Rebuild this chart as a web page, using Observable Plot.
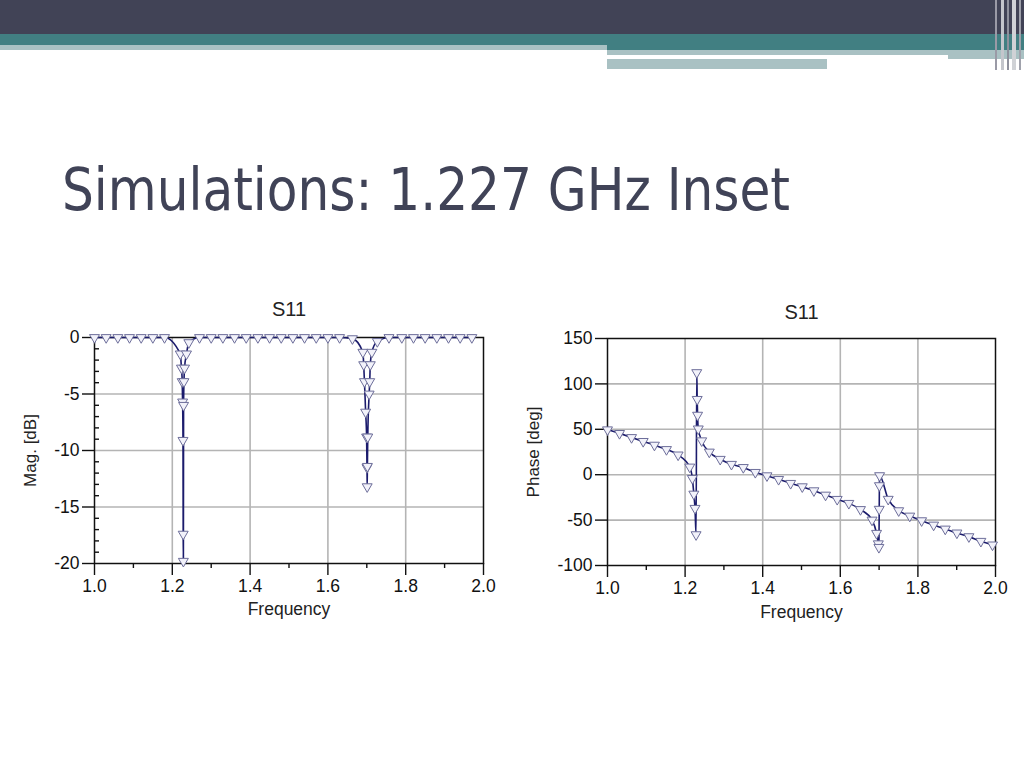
<!DOCTYPE html>
<html>
<head>
<meta charset="utf-8">
<script src="https://cdn.jsdelivr.net/npm/d3@7"></script>
<script src="https://cdn.jsdelivr.net/npm/@observablehq/plot@0.6"></script>
<style>
  html, body { margin:0; padding:0; background:#fff; }
  body { width:1024px; height:768px; position:relative; overflow:hidden; }
  .deco { position:absolute; }
  #title { position:absolute; left:0; top:0; }
  .chart { position:absolute; }
</style>
</head>
<body>
<!-- slide header decoration -->
<div class="deco" style="left:0;top:0;width:1024px;height:34px;background:#414356"></div>
<div class="deco" style="left:0;top:34px;width:1024px;height:11px;background:#417f82"></div>
<div class="deco" style="left:607px;top:45px;width:417px;height:5px;background:#417f82"></div>
<div class="deco" style="left:0;top:45px;width:607px;height:5px;background:#a9c1c3"></div>
<div class="deco" style="left:607px;top:50px;width:417px;height:5px;background:#a9c1c3"></div>
<div class="deco" style="left:948px;top:55px;width:76px;height:4px;background:#a9c1c3"></div>
<div class="deco" style="left:607px;top:59px;width:220px;height:10px;background:#a9c1c3"></div>
<div class="deco" style="left:995px;top:0;width:2px;height:70px;background:#9a9aa6"></div>
<div class="deco" style="left:1001px;top:0;width:3px;height:70px;background:#c4c6cc"></div>
<div class="deco" style="left:1007px;top:0;width:2px;height:70px;background:#8e909c"></div>
<div class="deco" style="left:1012px;top:0;width:4px;height:70px;background:#d0d2d6"></div>
<div class="deco" style="left:1019px;top:0;width:2px;height:70px;background:#a0a2ac"></div>

<svg id="title" width="1024" height="260">
  <text x="62" y="210" font-family="'DejaVu Sans Condensed','DejaVu Sans',sans-serif" font-stretch="condensed" font-size="58" fill="#404357" textLength="728" lengthAdjust="spacingAndGlyphs">Simulations: 1.227 GHz Inset</text>
</svg>

<div id="left" class="chart" style="left:10px;top:290px"></div>
<div id="right" class="chart" style="left:510px;top:290px"></div>

<script>
// ---------- data ----------
const magFreq = [1.00,1.03,1.06,1.09,1.12,1.15,1.18,
  1.2205,1.2235,1.2255,1.2265,1.2275,1.2280,1.2285,
  1.2290,1.2300,1.2315,1.2365,1.2425,
  1.27,1.30,1.33,1.36,1.39,1.42,1.45,1.48,1.51,1.54,1.57,1.60,1.63,
  1.663,
  1.690,1.692,1.694,1.697,1.6995,1.7005,1.701,
  1.7015,1.7025,1.706,1.7075,1.709,1.713,1.727,
  1.757,
  1.79,1.82,1.85,1.88,1.91,1.94,1.97];
const magDb = [0,0,0,0,0,0,0,
  -1.45,-2.7,-3.9,-5.7,-9.1,-17.4,-19.8,
  -6.0,-3.9,-2.7,-1.45,-0.45,
  0,0,0,0,0,0,0,0,0,0,0,0,0,
  -0.1,
  -1.3,-2.4,-3.9,-6.6,-8.8,-11.5,-13.2,
  -11.4,-8.8,-5.0,-3.9,-2.4,-1.3,-0.35,
  0,
  0,0,0,0,0,0,0];

const phaseFreq = [1.000,1.031,1.062,1.092,1.121,1.152,1.182,1.212,1.2187,1.2225,1.2255,1.2283,
  1.2300,1.2312,1.2322,1.2340,1.2428,1.2624,1.2905,1.3195,1.350,1.381,1.411,1.441,1.472,1.502,
  1.532,1.562,1.592,1.622,1.652,1.6818,1.6935,1.6980,1.6995,1.7003,1.7008,1.7013,1.7235,1.7505,
  1.7790,1.8096,1.8405,1.8705,1.9005,1.9314,1.9623,1.9923];
const phaseDeg = [49.5,45.5,41,36.7,32.6,27.8,21.8,8.5,-4,-21.3,-37,-66,
  112.5,83,65.6,50.5,37.4,25,17,11.5,8,2.6,-1.1,-5.1,-9.5,-13.2,
  -17.6,-22.4,-27.1,-31.5,-38.3,-49.9,-64.5,-76,-80,-38,-12,-1,-27,-39.6,
  -45.5,-50.6,-55.4,-59.8,-64.1,-68.2,-73.3,-77.3];

const freqMajorTicks = [1.0,1.2,1.4,1.6,1.8,2.0];
const freqMinorTicks = [1.1,1.3,1.5,1.7,1.9];
const freqGrid = [1.2,1.4,1.6,1.8];
const magMajorTicks = [0,-5,-10,-15,-20];
const magMinorTicks = [-1,-2,-3,-4,-6,-7,-8,-9,-11,-12,-13,-14,-16,-17,-18,-19];
const magGrid = [-5,-10,-15];
const phaseMajorTicks = [150,100,50,0,-50,-100];
const phaseGrid = [100,50,0,-50];

const chartTitle = "S11";
const xLabel = "Frequency";
const magLabel = "Mag. [dB]";
const phaseLabel = "Phase [deg]";

// ---------- tables ----------
const magData = magFreq.map((f, i) => ({f, v: magDb[i]}));
const phaseData = phaseFreq.map((f, i) => ({f, v: phaseDeg[i]}));

const lineColor = "#1b1b6c";
const gridColor = "#b4b4b4";
const font = "'Liberation Sans', Arial, sans-serif";

function makeChart(cfg) {
  const plotW = cfg.width - cfg.ml - cfg.mr;
  return Plot.plot({
    width: cfg.width, height: cfg.height,
    marginLeft: cfg.ml, marginRight: cfg.mr, marginTop: cfg.mt, marginBottom: cfg.mb,
    style: {fontFamily: font, fontSize: "17.5px", color: "#111", background: "transparent", overflow: "visible"},
    x: {domain: [1, 2]},
    y: {domain: cfg.yDomain},
    marks: [
      Plot.gridX(freqGrid, {stroke: gridColor, strokeOpacity: 1, strokeWidth: 1.6}),
      Plot.gridY(cfg.yGrid, {stroke: gridColor, strokeOpacity: 1, strokeWidth: 1.6}),
      Plot.axisX({ticks: freqMajorTicks, tickSize: 12, tickPadding: 4, tickFormat: d => d.toFixed(1), label: null, strokeWidth: 1.4, fontSize: 17.5}),
      Plot.axisX({ticks: freqMinorTicks, tickSize: 5, tickFormat: () => "", label: null, strokeWidth: 1.4}),
      Plot.axisY({ticks: cfg.yMajor, tickSize: 12, tickPadding: 3, tickFormat: d => String(d), label: null, strokeWidth: 1.4, fontSize: 17.5}),
      cfg.yMinor ? Plot.tickY(cfg.yMinor, {y: d => d, insetRight: plotW - 5, stroke: "#111", strokeWidth: 1.4}) : null,
      Plot.frame({stroke: "#111", strokeWidth: 1.5}),
      Plot.line(cfg.data, {x: "f", y: "v", stroke: lineColor, strokeWidth: 1.6, curve: "monotone-x"}),
      Plot.dot(cfg.data, {x: "f", y: "v", symbol: "triangle", rotate: 180, r: 3.7, stroke: "#6d6e9a", fill: "#f2f2fa", strokeWidth: 1}),
      Plot.text([chartTitle], {text: d => d, frameAnchor: "top", lineAnchor: "middle", textAnchor: "middle", dy: cfg.titleDy, fontSize: 20, fill: "#222"}),
      Plot.text([xLabel], {text: d => d, frameAnchor: "bottom", lineAnchor: "middle", textAnchor: "middle", dy: cfg.xLabelDy, fontSize: 17.5, fill: "#222"}),
      Plot.text([cfg.yLabel], {text: d => d, frameAnchor: "left", lineAnchor: "middle", textAnchor: "middle", dx: cfg.yLabelDx, rotate: -90, fontSize: 17, fill: "#222"})
    ]
  });
}

document.getElementById("left").append(makeChart({
  width: 490, height: 340, ml: 84, mr: 17, mt: 47, mb: 67,
  yDomain: [-20, 0], yGrid: magGrid, yMajor: magMajorTicks, yMinor: magMinorTicks,
  data: magData, titleDy: -28, xLabelDy: 46, yLabelDx: -64, yLabel: magLabel
}));

document.getElementById("right").append(makeChart({
  width: 500, height: 340, ml: 97, mr: 15, mt: 48, mb: 65,
  yDomain: [-100, 150], yGrid: phaseGrid, yMajor: phaseMajorTicks, yMinor: null,
  data: phaseData, titleDy: -26, xLabelDy: 47, yLabelDx: -74, yLabel: phaseLabel
}));
</script>
</body>
</html>
